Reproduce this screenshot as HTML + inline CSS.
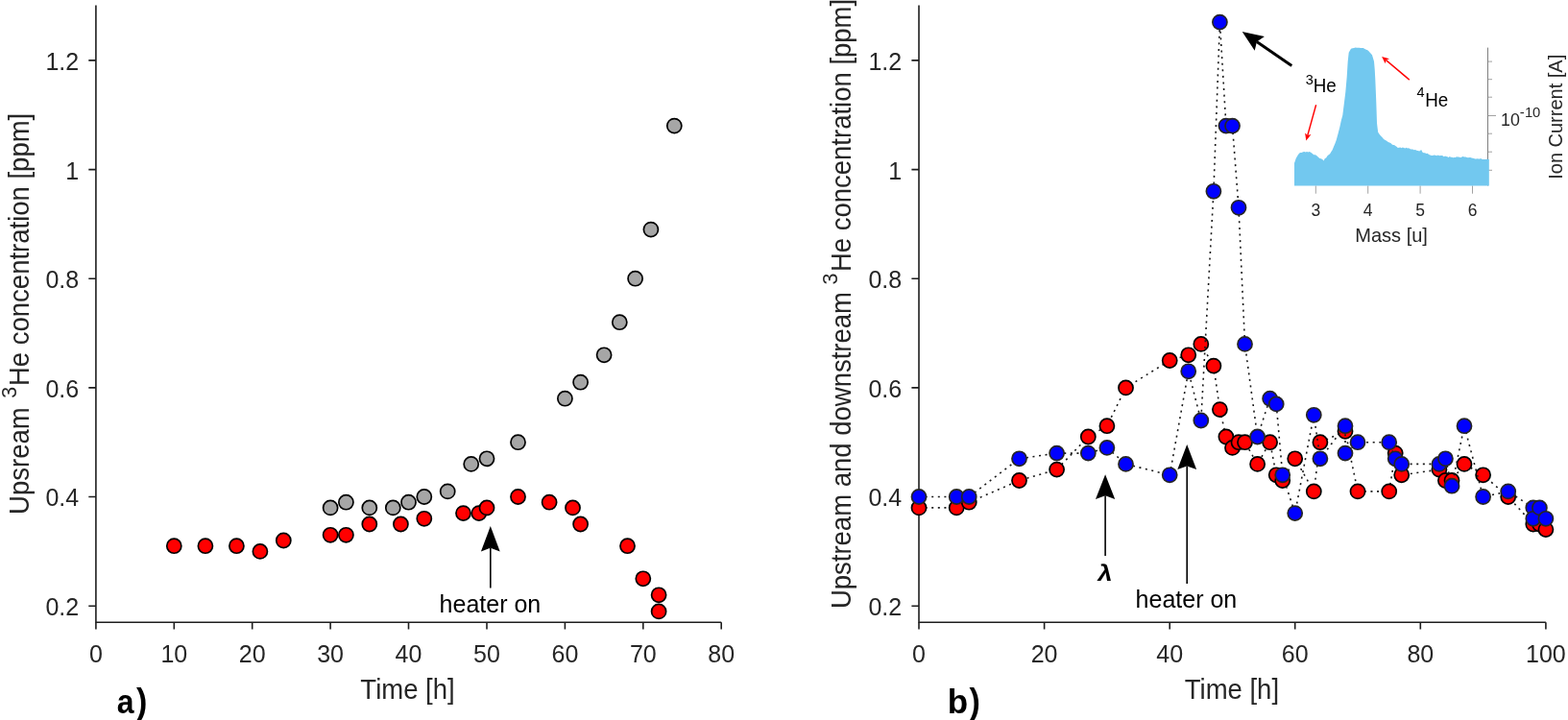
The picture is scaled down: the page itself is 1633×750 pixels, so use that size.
<!DOCTYPE html><html><head><meta charset="utf-8"><style>html,body{margin:0;padding:0;background:#fff;}body{width:1633px;height:750px;overflow:hidden;}svg{display:block;}text{font-family:'Liberation Sans', Arial, Helvetica, sans-serif;}</style></head><body>
<svg width="1633" height="750" viewBox="0 0 1633 750">
<rect width="1633" height="750" fill="#fff"/>
<g stroke="#1e1e1e" stroke-width="1.6" fill="none">
<path d="M99.9 5.5 V648.2 H751.2"/>
<path d="M92.3 631.2 H99.9 M92.3 517.5 H99.9 M92.3 403.9 H99.9 M92.3 290.2 H99.9 M92.3 176.6 H99.9 M92.3 62.9 H99.9 M99.9 648.2 V655.5 M181.3 648.2 V655.5 M262.7 648.2 V655.5 M344.1 648.2 V655.5 M425.5 648.2 V655.5 M507 648.2 V655.5 M588.4 648.2 V655.5 M669.8 648.2 V655.5 M751.2 648.2 V655.5"/>
</g>
<g fill="#262626">
<text transform="translate(82.2 641.1) scale(1 1.04)" font-size="25" text-anchor="end">0.2</text>
<text transform="translate(82.2 527.4) scale(1 1.04)" font-size="25" text-anchor="end">0.4</text>
<text transform="translate(82.2 413.8) scale(1 1.04)" font-size="25" text-anchor="end">0.6</text>
<text transform="translate(82.2 300.1) scale(1 1.04)" font-size="25" text-anchor="end">0.8</text>
<text transform="translate(82.2 186.5) scale(1 1.04)" font-size="25" text-anchor="end">1</text>
<text transform="translate(82.2 72.8) scale(1 1.04)" font-size="25" text-anchor="end">1.2</text>
<text transform="translate(99.9 690.4) scale(1 1.04)" font-size="25" text-anchor="middle">0</text>
<text transform="translate(181.3 690.4) scale(1 1.04)" font-size="25" text-anchor="middle">10</text>
<text transform="translate(262.7 690.4) scale(1 1.04)" font-size="25" text-anchor="middle">20</text>
<text transform="translate(344.1 690.4) scale(1 1.04)" font-size="25" text-anchor="middle">30</text>
<text transform="translate(425.5 690.4) scale(1 1.04)" font-size="25" text-anchor="middle">40</text>
<text transform="translate(507 690.4) scale(1 1.04)" font-size="25" text-anchor="middle">50</text>
<text transform="translate(588.4 690.4) scale(1 1.04)" font-size="25" text-anchor="middle">60</text>
<text transform="translate(669.8 690.4) scale(1 1.04)" font-size="25" text-anchor="middle">70</text>
<text transform="translate(751.2 690.4) scale(1 1.04)" font-size="25" text-anchor="middle">80</text>
<text transform="translate(424.5 727.5) scale(1 1.04)" font-size="27.5" text-anchor="middle">Time [h]</text>
</g>
<g transform="translate(29.9 0) rotate(-90) scale(1 1.04)" fill="#262626"><text x="-535.9" y="0" font-size="27.5">Upsream</text><text x="-414.7" y="-12.8" font-size="21.5">3</text><text x="-402" y="0" font-size="27.5">He concentration [ppm]</text></g>
<text transform="translate(121.8 743) scale(1 1.083)" font-size="32" fill="#000" font-weight="bold">a</text>
<text transform="translate(142 743) scale(1 1.06)" font-size="34" fill="#000" font-weight="bold">)</text>
<g fill="#a6a6a6" stroke="#000" stroke-width="1.7"><circle cx="344.1" cy="528.9" r="7.55"/><circle cx="360.4" cy="523.2" r="7.55"/><circle cx="384.8" cy="528.9" r="7.55"/><circle cx="409.3" cy="528.9" r="7.55"/><circle cx="425.5" cy="523.2" r="7.55"/><circle cx="441.8" cy="517.5" r="7.55"/><circle cx="466.2" cy="511.9" r="7.55"/><circle cx="490.7" cy="483.4" r="7.55"/><circle cx="507" cy="477.8" r="7.55"/><circle cx="539.5" cy="460.7" r="7.55"/><circle cx="588.4" cy="415.2" r="7.55"/><circle cx="604.6" cy="398.2" r="7.55"/><circle cx="629.1" cy="369.8" r="7.55"/><circle cx="645.3" cy="335.7" r="7.55"/><circle cx="661.6" cy="290.2" r="7.55"/><circle cx="677.9" cy="239.1" r="7.55"/><circle cx="702.3" cy="131.1" r="7.55"/></g>
<g fill="#ff0000" stroke="#000" stroke-width="1.7"><circle cx="181.3" cy="568.7" r="7.55"/><circle cx="213.9" cy="568.7" r="7.55"/><circle cx="246.4" cy="568.7" r="7.55"/><circle cx="270.9" cy="574.4" r="7.55"/><circle cx="295.3" cy="563" r="7.55"/><circle cx="344.1" cy="557.3" r="7.55"/><circle cx="360.4" cy="557.3" r="7.55"/><circle cx="384.8" cy="546" r="7.55"/><circle cx="417.4" cy="546" r="7.55"/><circle cx="441.8" cy="540.3" r="7.55"/><circle cx="482.5" cy="534.6" r="7.55"/><circle cx="498.8" cy="534.6" r="7.55"/><circle cx="507" cy="528.9" r="7.55"/><circle cx="539.5" cy="517.5" r="7.55"/><circle cx="572.1" cy="523.2" r="7.55"/><circle cx="596.5" cy="528.9" r="7.55"/><circle cx="604.6" cy="546" r="7.55"/><circle cx="653.5" cy="568.7" r="7.55"/><circle cx="669.8" cy="602.8" r="7.55"/><circle cx="686.1" cy="619.8" r="7.55"/><circle cx="686.1" cy="636.9" r="7.55"/></g>
<line x1="510.8" y1="612.6" x2="510.8" y2="570.8" stroke="#000" stroke-width="1.6"/><path d="M510.8 548.1 L520.7 574.5 L510.8 570.8 L500.9 574.5 Z" fill="#000"/>
<text transform="translate(510.4 638) scale(1 1.0)" font-size="25" text-anchor="middle" fill="#000">heater on</text>
<g stroke="#1e1e1e" stroke-width="1.6" fill="none">
<path d="M957 5.5 V648.2 H1609.9"/>
<path d="M949.4 631.2 H957 M949.4 517.5 H957 M949.4 403.9 H957 M949.4 290.2 H957 M949.4 176.6 H957 M949.4 62.9 H957 M957 648.2 V655.5 M1087.6 648.2 V655.5 M1218.2 648.2 V655.5 M1348.7 648.2 V655.5 M1479.3 648.2 V655.5 M1609.9 648.2 V655.5"/>
</g>
<g fill="#262626">
<text transform="translate(939.2 641.1) scale(1 1.04)" font-size="25" text-anchor="end">0.2</text>
<text transform="translate(939.2 527.4) scale(1 1.04)" font-size="25" text-anchor="end">0.4</text>
<text transform="translate(939.2 413.8) scale(1 1.04)" font-size="25" text-anchor="end">0.6</text>
<text transform="translate(939.2 300.1) scale(1 1.04)" font-size="25" text-anchor="end">0.8</text>
<text transform="translate(939.2 186.5) scale(1 1.04)" font-size="25" text-anchor="end">1</text>
<text transform="translate(939.2 72.8) scale(1 1.04)" font-size="25" text-anchor="end">1.2</text>
<text transform="translate(957 690.4) scale(1 1.04)" font-size="25" text-anchor="middle">0</text>
<text transform="translate(1087.6 690.4) scale(1 1.04)" font-size="25" text-anchor="middle">20</text>
<text transform="translate(1218.2 690.4) scale(1 1.04)" font-size="25" text-anchor="middle">40</text>
<text transform="translate(1348.7 690.4) scale(1 1.04)" font-size="25" text-anchor="middle">60</text>
<text transform="translate(1479.3 690.4) scale(1 1.04)" font-size="25" text-anchor="middle">80</text>
<text transform="translate(1609.9 690.4) scale(1 1.04)" font-size="25" text-anchor="middle">100</text>
<text transform="translate(1282.9 727.5) scale(1 1.04)" font-size="27.5" text-anchor="middle">Time [h]</text>
</g>
<g transform="translate(886.3 0) rotate(-90) scale(1 1.04)" fill="#262626"><text x="-634.1" y="0" font-size="27.5">Upstream and downstream</text><text x="-296.6" y="-13.3" font-size="21.5">3</text><text x="-283.1" y="0" font-size="27.5">He concentration [ppm]</text></g>
<text transform="translate(986.7 743) scale(1 1.0)" font-size="35" fill="#000" font-weight="bold">b</text>
<text transform="translate(1009.4 743) scale(1 1.06)" font-size="34" fill="#000" font-weight="bold">)</text>
<path d="M957 528.9 L996.2 528.9 L1009.2 523.2 L1061.5 500.5 L1100.6 489.1 L1133.3 455 L1152.9 443.7 L1172.5 403.9 L1218.2 375.5 L1237.7 369.8 L1250.8 358.4 L1263.9 381.1 L1270.4 426.6 L1276.9 455 L1283.5 466.4 L1290 460.7 L1296.5 460.7 L1309.6 483.4 L1322.6 460.7 L1329.2 494.8 L1335.7 500.5 L1348.7 477.8 L1368.3 511.9 L1374.9 460.7 L1401 449.3 L1414 511.9 L1446.7 511.9 L1453.2 472.1 L1459.7 494.8 L1498.9 489.1 L1505.4 500.5 L1512 500.5 L1525 483.4 L1544.6 494.8 L1570.7 517.5 L1596.8 546 L1603.4 546 L1609.9 551.6" fill="none" stroke="#1a1a1a" stroke-width="1.6" stroke-dasharray="2 4.6"/>
<g fill="#ff0000" stroke="#000" stroke-width="1.7"><circle cx="957" cy="528.9" r="7.55"/><circle cx="996.2" cy="528.9" r="7.55"/><circle cx="1009.2" cy="523.2" r="7.55"/><circle cx="1061.5" cy="500.5" r="7.55"/><circle cx="1100.6" cy="489.1" r="7.55"/><circle cx="1133.3" cy="455" r="7.55"/><circle cx="1152.9" cy="443.7" r="7.55"/><circle cx="1172.5" cy="403.9" r="7.55"/><circle cx="1218.2" cy="375.5" r="7.55"/><circle cx="1237.7" cy="369.8" r="7.55"/><circle cx="1250.8" cy="358.4" r="7.55"/><circle cx="1263.9" cy="381.1" r="7.55"/><circle cx="1270.4" cy="426.6" r="7.55"/><circle cx="1276.9" cy="455" r="7.55"/><circle cx="1283.5" cy="466.4" r="7.55"/><circle cx="1290" cy="460.7" r="7.55"/><circle cx="1296.5" cy="460.7" r="7.55"/><circle cx="1309.6" cy="483.4" r="7.55"/><circle cx="1322.6" cy="460.7" r="7.55"/><circle cx="1329.2" cy="494.8" r="7.55"/><circle cx="1335.7" cy="500.5" r="7.55"/><circle cx="1348.7" cy="477.8" r="7.55"/><circle cx="1368.3" cy="511.9" r="7.55"/><circle cx="1374.9" cy="460.7" r="7.55"/><circle cx="1401" cy="449.3" r="7.55"/><circle cx="1414" cy="511.9" r="7.55"/><circle cx="1446.7" cy="511.9" r="7.55"/><circle cx="1453.2" cy="472.1" r="7.55"/><circle cx="1459.7" cy="494.8" r="7.55"/><circle cx="1498.9" cy="489.1" r="7.55"/><circle cx="1505.4" cy="500.5" r="7.55"/><circle cx="1512" cy="500.5" r="7.55"/><circle cx="1525" cy="483.4" r="7.55"/><circle cx="1544.6" cy="494.8" r="7.55"/><circle cx="1570.7" cy="517.5" r="7.55"/><circle cx="1596.8" cy="546" r="7.55"/><circle cx="1603.4" cy="546" r="7.55"/><circle cx="1609.9" cy="551.6" r="7.55"/></g>
<path d="M957 517.5 L996.2 517.5 L1009.2 517.5 L1061.5 477.8 L1100.6 472.1 L1133.3 472.1 L1152.9 466.4 L1172.5 483.4 L1218.2 494.8 L1237.7 386.8 L1250.8 438 L1263.9 199.3 L1270.4 23.1 L1276.9 131.1 L1283.5 131.1 L1290 216.3 L1296.5 358.4 L1309.6 455 L1322.6 415.2 L1329.2 420.9 L1335.7 494.8 L1348.7 534.6 L1368.3 432.3 L1374.9 477.8 L1401 443.7 L1401 472.1 L1414 460.7 L1446.7 460.7 L1453.2 477.8 L1459.7 483.4 L1498.9 483.4 L1505.4 477.8 L1512 506.2 L1525 443.7 L1544.6 517.5 L1570.7 511.9 L1596.8 528.9 L1596.8 540.3 L1603.4 528.9 L1609.9 540.3" fill="none" stroke="#1a1a1a" stroke-width="1.6" stroke-dasharray="2 4.6"/>
<g fill="#0000ff" stroke="#262626" stroke-width="1.7"><circle cx="957" cy="517.5" r="7.55"/><circle cx="996.2" cy="517.5" r="7.55"/><circle cx="1009.2" cy="517.5" r="7.55"/><circle cx="1061.5" cy="477.8" r="7.55"/><circle cx="1100.6" cy="472.1" r="7.55"/><circle cx="1133.3" cy="472.1" r="7.55"/><circle cx="1152.9" cy="466.4" r="7.55"/><circle cx="1172.5" cy="483.4" r="7.55"/><circle cx="1218.2" cy="494.8" r="7.55"/><circle cx="1237.7" cy="386.8" r="7.55"/><circle cx="1250.8" cy="438" r="7.55"/><circle cx="1263.9" cy="199.3" r="7.55"/><circle cx="1270.4" cy="23.1" r="7.55"/><circle cx="1276.9" cy="131.1" r="7.55"/><circle cx="1283.5" cy="131.1" r="7.55"/><circle cx="1290" cy="216.3" r="7.55"/><circle cx="1296.5" cy="358.4" r="7.55"/><circle cx="1309.6" cy="455" r="7.55"/><circle cx="1322.6" cy="415.2" r="7.55"/><circle cx="1329.2" cy="420.9" r="7.55"/><circle cx="1335.7" cy="494.8" r="7.55"/><circle cx="1348.7" cy="534.6" r="7.55"/><circle cx="1368.3" cy="432.3" r="7.55"/><circle cx="1374.9" cy="477.8" r="7.55"/><circle cx="1401" cy="443.7" r="7.55"/><circle cx="1401" cy="472.1" r="7.55"/><circle cx="1414" cy="460.7" r="7.55"/><circle cx="1446.7" cy="460.7" r="7.55"/><circle cx="1453.2" cy="477.8" r="7.55"/><circle cx="1459.7" cy="483.4" r="7.55"/><circle cx="1498.9" cy="483.4" r="7.55"/><circle cx="1505.4" cy="477.8" r="7.55"/><circle cx="1512" cy="506.2" r="7.55"/><circle cx="1525" cy="443.7" r="7.55"/><circle cx="1544.6" cy="517.5" r="7.55"/><circle cx="1570.7" cy="511.9" r="7.55"/><circle cx="1596.8" cy="528.9" r="7.55"/><circle cx="1596.8" cy="540.3" r="7.55"/><circle cx="1603.4" cy="528.9" r="7.55"/><circle cx="1609.9" cy="540.3" r="7.55"/></g>
<line x1="1151.1" y1="579" x2="1151.1" y2="516.3" stroke="#000" stroke-width="1.6"/><path d="M1151.1 494.2 L1161.2 520 L1151.1 516.3 L1141 520 Z" fill="#000"/>
<text transform="translate(1149.9 604.9) skewX(-9) scale(1.14 1)" font-size="23.8" text-anchor="middle" font-weight="bold" fill="#000">&#955;</text>
<line x1="1236.2" y1="608.1" x2="1236.2" y2="485.4" stroke="#000" stroke-width="1.6"/><path d="M1236.2 463 L1246.1 489.1 L1236.2 485.4 L1226.3 489.1 Z" fill="#000"/>
<text transform="translate(1235.4 633.4) scale(1 1.0)" font-size="25" text-anchor="middle" fill="#000">heater on</text>
<line x1="1345.3" y1="68.4" x2="1308.9" y2="43.4" stroke="#000" stroke-width="3"/>
<path d="M1293.7 32.9 L1306.7 52.8 L1308.9 43.4 L1316.9 38 Z" fill="#000"/>
<path d="M1549.5 49.6 V193.4" stroke="#707070" stroke-width="0.9" fill="none"/>
<path d="M1549.5 64.1 H1554 M1549.5 82.7 H1554 M1549.5 101.2 H1554 M1549.5 139.2 H1554 M1549.5 158.2 H1554 M1549.5 177.3 H1554 M1549.5 120.5 H1558 M1370.3 193.4 V201.7 M1424.7 193.4 V201.7 M1479.1 193.4 V201.7 M1533.5 193.4 V201.7" stroke="#8a8a8a" stroke-width="0.8" fill="none"/>
<path d="M1348 193.4 L1348 169.9 L1349.7 165.1 L1352 161 L1353.9 158.9 L1355.5 159 L1357.1 158.3 L1358.4 158 L1359.7 158.5 L1361.1 157.9 L1362.4 158.4 L1363.7 158 L1365.2 158.8 L1366.8 159.9 L1368.3 161.2 L1369.9 161.3 L1371.4 162.3 L1373 163.8 L1374.4 165 L1375.8 165.3 L1377.2 166 L1378.6 167.5 L1379.8 165 L1381.1 164.5 L1382.3 162.4 L1383.7 161.3 L1385.1 160.3 L1386.4 158.1 L1387.6 156.2 L1388.9 152.9 L1390.3 149.7 L1391.7 146.1 L1393.6 139.1 L1395.4 132 L1396.8 125.4 L1398.3 120 L1399.8 108 L1401.3 96 L1402.7 80 L1403.7 64 L1404.7 54.7 L1407 50.7 L1408.6 50.3 L1410.1 50 L1411.7 49.6 L1413 49.7 L1414.4 49.7 L1415.7 49.8 L1417 49.9 L1418.4 49.9 L1419.7 50 L1421 50.7 L1422.3 51.4 L1423.7 52 L1425 52.7 L1426.3 54.2 L1427.7 55.8 L1429 57.3 L1431 64 L1431.7 72 L1432.3 82.7 L1433.3 106.7 L1434 128 L1434.6 133.3 L1435.2 137.8 L1436.7 140 L1438.2 141.7 L1439.5 143 L1440.9 144.8 L1442.2 145.7 L1443.8 146.5 L1445.4 147.8 L1447 148.5 L1448.3 149 L1449.5 150.3 L1450.8 150.9 L1452 151 L1453.3 152.1 L1454.5 152.7 L1455.8 153.9 L1457.1 153.8 L1458.3 153.4 L1459.6 154.3 L1460.8 153.4 L1462.1 153.9 L1463.3 154.4 L1464.6 153.8 L1465.9 154.5 L1467.3 154.2 L1468.6 155.2 L1469.9 155.6 L1471.3 155.6 L1472.6 156.3 L1474 156 L1475.4 156.8 L1476.8 157.1 L1478.2 157.5 L1480.2 156.1 L1481.4 158.6 L1482.7 159.3 L1484.1 159.2 L1485.4 160 L1486.7 159.8 L1488.1 161.1 L1489.4 161.6 L1490.8 162.1 L1492.1 162 L1493.5 161.5 L1494.9 161.7 L1496.3 162.2 L1497.6 161.5 L1499 162.2 L1500.2 162 L1501.4 162.1 L1502.6 162.2 L1503.8 163.2 L1505 162.6 L1506.2 162.9 L1507.4 163.2 L1508.6 163.9 L1509.8 163.1 L1511 163.7 L1512.2 163.8 L1513.4 164.2 L1514.6 164.1 L1515.8 164.1 L1517 163.3 L1518.2 163.5 L1519.4 163.4 L1520.6 163.9 L1521.8 164 L1523 163 L1524.2 163.2 L1525.4 163.4 L1526.6 163.6 L1527.8 164 L1529 164.3 L1530.2 164.1 L1531.4 163.9 L1532.6 164.6 L1533.8 164.7 L1535 165.1 L1536.2 165.6 L1537.4 165.4 L1538.6 165.2 L1539.9 165.4 L1541.1 165.6 L1542.3 164.9 L1543.5 166 L1544.7 166 L1545.9 166.1 L1547.2 166.1 L1548.4 165.7 L1549.6 165.8 L1550.8 166 L1550.8 193.4 Z" fill="#72c8ef"/>
<g fill="#262626">
<text transform="translate(1370.3 225.3) scale(1 1.04)" font-size="17.5" text-anchor="middle">3</text>
<text transform="translate(1424.7 225.3) scale(1 1.04)" font-size="17.5" text-anchor="middle">4</text>
<text transform="translate(1479.1 225.3) scale(1 1.04)" font-size="17.5" text-anchor="middle">5</text>
<text transform="translate(1533.5 225.3) scale(1 1.04)" font-size="17.5" text-anchor="middle">6</text>
<text transform="translate(1449.1 251.5) scale(1 1.04)" font-size="20" text-anchor="middle">Mass [u]</text>
<text transform="translate(1563 130.6) scale(1 1.04)" font-size="17.8">10</text>
<text transform="translate(1582.8 121.6) scale(1 1.04)" font-size="14.8" letter-spacing="0.5">-</text>
<text transform="translate(1587.9 121.6) scale(1 1.04)" font-size="14.8">10</text>
</g>
<g transform="translate(1627.3 0) rotate(-90) scale(1 1.04)" fill="#262626"><text x="-186.8" y="0" font-size="20">Ion Current [A]</text></g>
<text transform="translate(1359.7 87.6) scale(1 1.04)" font-size="14.5" fill="#000">3</text>
<text transform="translate(1367.7 96.4) scale(1 1.04)" font-size="18.8" fill="#000">He</text>
<text transform="translate(1475.5 101.4) scale(1 1.04)" font-size="14.5" fill="#000">4</text>
<text transform="translate(1484.2 110.7) scale(1 1.04)" font-size="18.8" fill="#000">He</text>
<line x1="1370.6" y1="109.2" x2="1361.8" y2="141" stroke="#ff0000" stroke-width="1.4"/><path d="M1360.3 146.5 L1365.5 140.1 L1361.8 141 L1359.1 138.4 Z" fill="#ff0000"/>
<line x1="1467.8" y1="83.1" x2="1443.5" y2="62.6" stroke="#ff0000" stroke-width="1.4"/><path d="M1439.1 58.9 L1442.7 66.3 L1443.5 62.6 L1447 61.2 Z" fill="#ff0000"/>
</svg></body></html>
